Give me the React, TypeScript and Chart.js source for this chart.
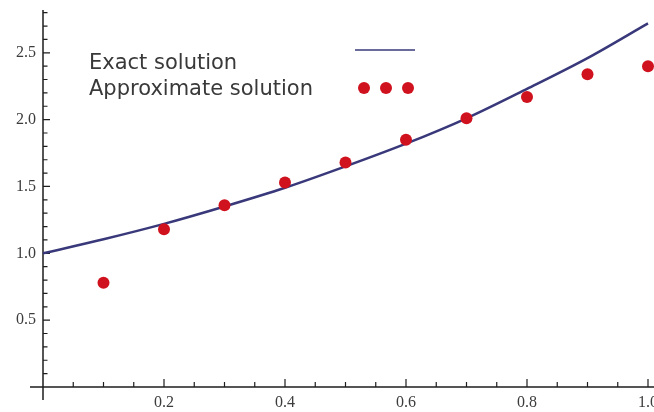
import React, { useEffect, useRef } from "react";
import { Chart, registerables } from "chart.js";

Chart.register(...registerables);

// Exact solution curve
const exactX = [0, 0.1, 0.2, 0.3, 0.4, 0.5, 0.6, 0.7, 0.8, 0.9, 1.0];
const exactY = [1.0, 1.105, 1.22, 1.35, 1.49, 1.65, 1.82, 2.01, 2.23, 2.46, 2.72];

// Approximate solution points
const approxX = [0.1, 0.2, 0.3, 0.4, 0.5, 0.6, 0.7, 0.8, 0.9, 1.0];
const approxY = [0.78, 1.18, 1.36, 1.53, 1.68, 1.85, 2.01, 2.17, 2.34, 2.4];

// Tick labels
const xTicks = [0.2, 0.4, 0.6, 0.8, 1.0];
const yTicks = [0.5, 1.0, 1.5, 2.0, 2.5];

const legendLabels = ["Exact solution", "Approximate solution"];

const LINE_COLOR = "#38387a";
const DOT_COLOR = "#d0121f";

const axesPlugin = {
  id: "mmaAxes",
  beforeDatasetsDraw(chart: any) {
    const { ctx, scales } = chart;
    const x = scales.x;
    const y = scales.y;
    const x0 = x.getPixelForValue(0);
    const y0 = y.getPixelForValue(0);
    ctx.save();
    ctx.strokeStyle = "#1e1e1e";
    ctx.lineWidth = 1.5;
    ctx.beginPath();
    ctx.moveTo(x0, y.top);
    ctx.lineTo(x0, y0 + 13);
    ctx.moveTo(x0 - 13, y0);
    ctx.lineTo(chart.width, y0);
    ctx.stroke();
    ctx.lineWidth = 1.2;
    ctx.beginPath();
    for (let i = 1; i <= 20; i++) {
      const px = x.getPixelForValue(i * 0.05);
      const len = i % 4 === 0 ? 8 : 5;
      ctx.moveTo(px, y0);
      ctx.lineTo(px, y0 - len);
    }
    for (let i = 1; i <= 28; i++) {
      const py = y.getPixelForValue(i * 0.1);
      const len = i % 5 === 0 ? 7 : 4.5;
      ctx.moveTo(x0, py);
      ctx.lineTo(x0 + len, py);
    }
    ctx.stroke();
    ctx.restore();
  },
  afterDraw(chart: any) {
    const { ctx } = chart;
    ctx.save();
    ctx.font = "21px 'DejaVu Sans'";
    ctx.fillStyle = "#393939";
    ctx.textBaseline = "alphabetic";
    ctx.textAlign = "left";
    ctx.fillText(legendLabels[0], 89, 69);
    ctx.fillText(legendLabels[1], 89, 95);
    // legend line sample
    ctx.strokeStyle = LINE_COLOR;
    ctx.lineWidth = 1.5;
    ctx.beginPath();
    ctx.moveTo(355, 50);
    ctx.lineTo(415, 50);
    ctx.stroke();
    // legend dots
    ctx.fillStyle = DOT_COLOR;
    [364, 386, 408].forEach((cx) => {
      ctx.beginPath();
      ctx.arc(cx, 88, 6, 0, Math.PI * 2);
      ctx.fill();
    });
    ctx.restore();
  },
};

export default function App() {
  const ref = useRef<HTMLCanvasElement | null>(null);

  useEffect(() => {
    if (!ref.current) return;
    const chart = new Chart(ref.current, {
      type: "scatter",
      data: {
        datasets: [
          {
            label: legendLabels[0],
            data: exactX.map((v, i) => ({ x: v, y: exactY[i] })),
            showLine: true,
            borderColor: LINE_COLOR,
            borderWidth: 2.5,
            pointRadius: 0,
            cubicInterpolationMode: "monotone",
            clip: false as any,
            order: 2,
          },
          {
            label: legendLabels[1],
            data: approxX.map((v, i) => ({ x: v, y: approxY[i] })),
            showLine: false,
            pointRadius: 6,
            pointBorderWidth: 0,
            pointBackgroundColor: DOT_COLOR,
            backgroundColor: DOT_COLOR,
            clip: false as any,
            order: 1,
          },
        ],
      },
      options: {
        animation: false,
        responsive: true,
        maintainAspectRatio: false,
        layout: { padding: { left: 0, top: 10, right: 6, bottom: 0 } },
        plugins: { legend: { display: false }, tooltip: { enabled: false } },
        scales: {
          x: {
            type: "linear",
            min: 0,
            max: 1.0,
            grid: { display: false, drawTicks: false },
            border: { display: false },
            afterBuildTicks: (s: any) => {
              s.ticks = xTicks.map((v) => ({ value: v }));
            },
            afterFit: (s: any) => {
              s.height = 25;
              s.paddingLeft = 0;
              s.paddingRight = 0;
            },
            ticks: {
              padding: 6,
              maxRotation: 0,
              autoSkip: false,
              color: "#3c3c3c",
              font: { family: "'Liberation Serif'", size: 16 },
              callback: (v: any) => Number(v).toFixed(1),
            },
          },
          y: {
            type: "linear",
            min: 0,
            max: 2.82,
            grid: { display: false, drawTicks: false },
            border: { display: false },
            afterBuildTicks: (s: any) => {
              s.ticks = yTicks.map((v) => ({ value: v }));
            },
            afterFit: (s: any) => {
              s.width = 43;
              s.paddingTop = 0;
              s.paddingBottom = 0;
            },
            ticks: {
              padding: 7,
              autoSkip: false,
              color: "#3c3c3c",
              font: { family: "'Liberation Serif'", size: 16 },
              callback: (v: any) => Number(v).toFixed(1),
            },
          },
        },
      },
      plugins: [axesPlugin],
    });
    return () => chart.destroy();
  }, []);

  return (
    <div style={{ position: "fixed", left: 0, top: 0, width: 654, height: 412, background: "#fff" }}>
      <canvas ref={ref} />
    </div>
  );
}
